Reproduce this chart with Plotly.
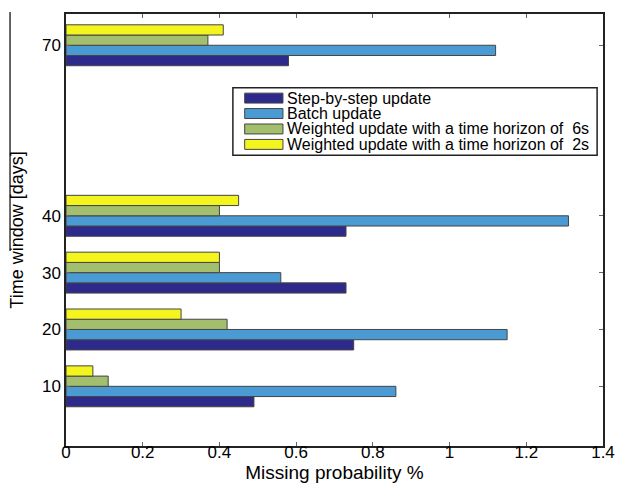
import plotly.graph_objects as go

windows = [10, 20, 30, 40, 70]
series_names = [
    "Step-by-step update",
    "Batch update",
    "Weighted update with a time horizon of  6s",
    "Weighted update with a time horizon of  2s",
]
step_by_step = [0.49, 0.75, 0.73, 0.73, 0.58]
batch = [0.86, 1.15, 0.56, 1.31, 1.12]
weighted_6s = [0.11, 0.42, 0.40, 0.40, 0.37]
weighted_2s = [0.07, 0.30, 0.40, 0.45, 0.41]
x_ticks = [0, 0.2, 0.4, 0.6, 0.8, 1.0, 1.2, 1.4]
x_tick_labels = ["0", "0.2", "0.4", "0.6", "0.8", "1", "1.2", "1.4"]

colors = ["#2E2A8C", "#4A9AD4", "#A3BE6C", "#F4F41E"]
series = [step_by_step, batch, weighted_6s, weighted_2s]

W, H = 627, 493
ML, MR, MT, MB = 66, 14, 12, 47
PW, PH = W - ML - MR, H - MT - MB


def px(xp):
    return (xp - ML) / PW


def py(yp):
    return (H - MB - yp) / PH


FONT = "Liberation Sans, Arial, Helvetica"

fig = go.Figure()
for name, vals, col in zip(series_names, series, colors):
    fig.add_trace(go.Bar(
        y=windows, x=vals, orientation="h", name=name,
        marker=dict(color=col, line=dict(color="#444444", width=1)),
        showlegend=False,
    ))

axis_common = dict(
    showgrid=False, zeroline=False, showline=True, linecolor="#222222",
    linewidth=1.5, mirror="ticks", ticks="inside", ticklen=4, tickcolor="#666666",
    tickfont=dict(family=FONT, size=17, color="black"),
)

# custom legend (box, swatches, labels)
shapes = [dict(type="rect", xref="paper", yref="paper",
               x0=px(236), x1=px(607), y0=py(154), y1=py(86),
               line=dict(color="#222222", width=1.5), fillcolor="white", layer="above")]
annotations = []
row_centers = [96.5, 112, 127.5, 143]
for name, col, rc in zip(series_names, colors, row_centers):
    shapes.append(dict(type="rect", xref="paper", yref="paper",
                       x0=px(248), x1=px(287), y0=py(rc + 5), y1=py(rc - 5),
                       line=dict(color="#444444", width=1), fillcolor=col, layer="above"))
    annotations.append(dict(xref="paper", yref="paper", x=px(290), y=py(rc),
                            xanchor="left", yanchor="middle", text=name, showarrow=False,
                            borderpad=0,
                            font=dict(family=FONT, size=16, color="black")))

# scan artifact line on the left edge
shapes.append(dict(type="line", xref="paper", yref="paper",
                   x0=px(9), x1=px(9), y0=py(250), y1=py(10),
                   line=dict(color="#333333", width=1.5)))

fig.update_layout(
    width=W, height=H,
    margin=dict(l=ML, r=MR, t=MT, b=MB),
    paper_bgcolor="white", plot_bgcolor="white",
    barmode="group", bargap=0.28, bargroupgap=0,
    font=dict(family=FONT, color="black"),
    showlegend=False,
    xaxis=dict(range=[0, 1.4], tickvals=x_ticks, ticktext=x_tick_labels,
               ticklabelstandoff=-10,
               title=dict(text="Missing probability %", font=dict(size=19), standoff=2),
               **axis_common),
    yaxis=dict(range=[-0.5, 75.5], tickvals=windows,
               title=dict(text="Time window [days]", font=dict(size=18), standoff=14),
               **axis_common),
    shapes=shapes,
    annotations=annotations,
)

fig.write_html("out.html")
